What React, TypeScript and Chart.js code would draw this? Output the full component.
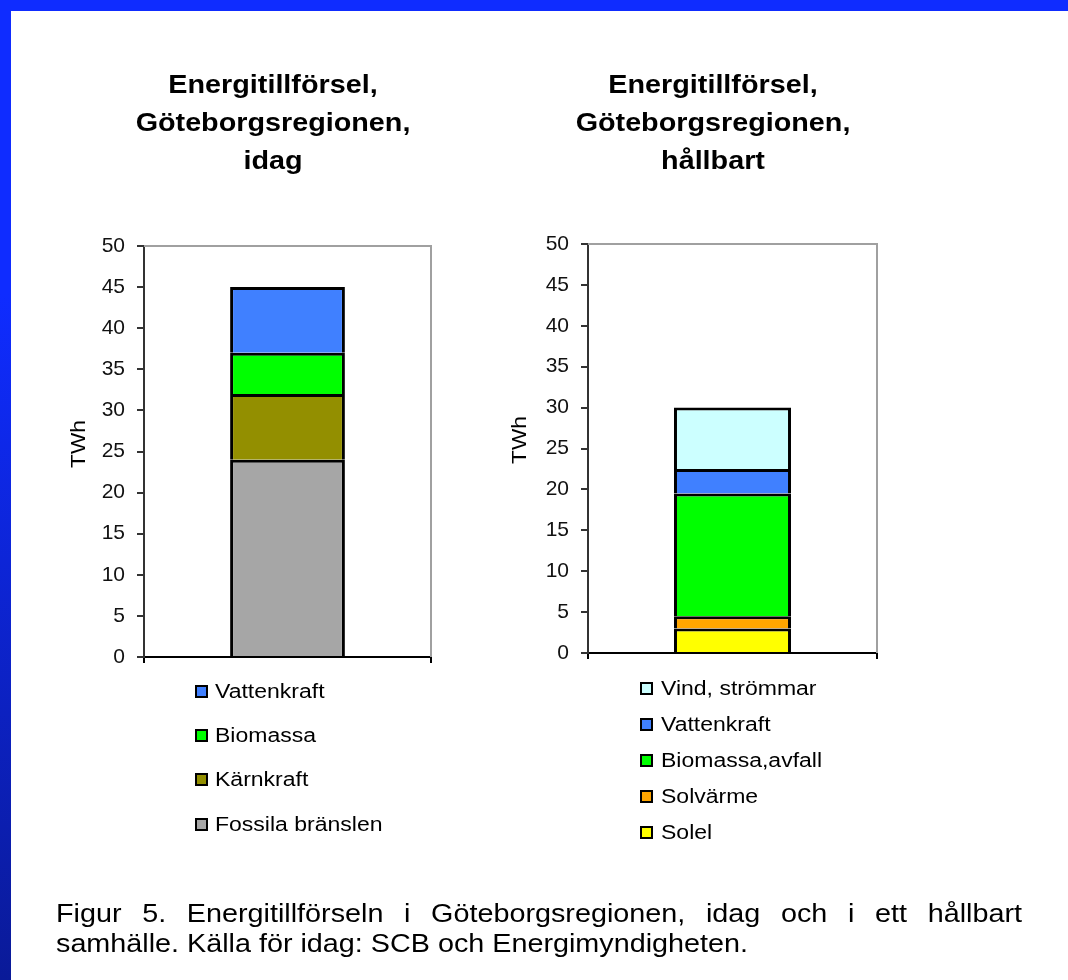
import React, { useEffect, useRef } from 'react';
import { Chart, registerables } from 'chart.js';

Chart.register(...registerables);

// ---------- data ----------
const categories = [''];
const leftSeriesLabels = ['Fossila bränslen', 'Kärnkraft', 'Biomassa', 'Vattenkraft'];
const leftSeriesValues = [24, 8, 5, 8];
const leftSeriesColors = ['#a6a6a6', '#938f00', '#00ff00', '#4080ff'];

const rightSeriesLabels = ['Solel', 'Solvärme', 'Biomassa,avfall', 'Vattenkraft', 'Vind, strömmar'];
const rightSeriesValues = [3, 1.5, 15, 3, 7.5];
const rightSeriesColors = ['#ffff00', '#ffa500', '#00ff00', '#4080ff', '#ccffff'];

const yMin = 0;
const yMax = 50;
const yStep = 5;
const yAxisLabel = 'TWh';

const leftTitleLines = ['Energitillförsel,', 'Göteborgsregionen,', 'idag'];
const rightTitleLines = ['Energitillförsel,', 'Göteborgsregionen,', 'hållbart'];

const captionLine1 = 'Figur 5. Energitillförseln i Göteborgsregionen, idag och i ett hållbart';
const captionLine2 = 'samhälle. Källa för idag: SCB och Energimyndigheten.';

// ---------- layout ----------
const W = 1068;
const H = 980;
const FONT = '"Liberation Sans", Arial, Helvetica, sans-serif';
const Y_W = 100;
const X_H = 10;
const STRETCH = 1.15;

type Spec = {
  labels: string[];
  values: number[];
  colors: string[];
  title: string[];
  area: { left: number; top: number; right: number; bottom: number };
  titleCx: number;
  titleBaselines: number[];
  legend: { boxX: number; textX: number; rows: number[] };
  ylab: { x: number; y: number };
  barPct: number;
};

const leftSpec: Spec = {
  labels: leftSeriesLabels,
  values: leftSeriesValues,
  colors: leftSeriesColors,
  title: leftTitleLines,
  area: { left: 144, top: 246, right: 431, bottom: 657 },
  titleCx: 273,
  titleBaselines: [93, 131, 169],
  legend: { boxX: 195, textX: 215, rows: [691, 735, 779, 824] },
  ylab: { x: 79, y: 444 },
  barPct: 0.4,
};

const rightSpec: Spec = {
  labels: rightSeriesLabels,
  values: rightSeriesValues,
  colors: rightSeriesColors,
  title: rightTitleLines,
  area: { left: 588, top: 244, right: 877, bottom: 653 },
  titleCx: 713,
  titleBaselines: [93, 131, 169],
  legend: { boxX: 640, textX: 661, rows: [688, 724, 760, 796, 832] },
  ylab: { x: 520, y: 440 },
  barPct: 0.405,
};

function drawText(
  ctx: CanvasRenderingContext2D,
  text: string,
  x: number,
  y: number,
  align: CanvasTextAlign,
  baseline: CanvasTextBaseline,
  sx: number
) {
  ctx.save();
  ctx.translate(x, y);
  ctx.scale(sx, 1);
  ctx.textAlign = align;
  ctx.textBaseline = baseline;
  ctx.fillText(text, 0, 0);
  ctx.restore();
}

function makeConfig(spec: Spec): any {
  const decor = {
    id: 'decor',
    afterDraw(chart: any) {
      const ctx = chart.ctx as CanvasRenderingContext2D;
      const ca = chart.chartArea;
      ctx.save();
      // top and right frame of plot area
      ctx.strokeStyle = '#a0a0a0';
      ctx.lineWidth = 2;
      ctx.beginPath();
      ctx.moveTo(ca.left, ca.top);
      ctx.lineTo(ca.right, ca.top);
      ctx.lineTo(ca.right, ca.bottom);
      ctx.stroke();

      // titles
      ctx.fillStyle = '#000';
      ctx.font = `bold 25px ${FONT}`;
      spec.title.forEach((t, i) =>
        drawText(ctx, t, spec.titleCx, spec.titleBaselines[i], 'center', 'alphabetic', STRETCH)
      );

      // y axis label
      ctx.font = `21px ${FONT}`;
      ctx.save();
      ctx.translate(spec.ylab.x, spec.ylab.y);
      ctx.rotate(-Math.PI / 2);
      ctx.scale(1.08, 1);
      ctx.textAlign = 'center';
      ctx.textBaseline = 'middle';
      ctx.fillText(yAxisLabel, 0, 0);
      ctx.restore();

      // legend (reverse order: top item is last stacked series)
      ctx.font = `20px ${FONT}`;
      const ds = chart.data.datasets;
      const n = ds.length;
      spec.legend.rows.forEach((y, i) => {
        const d = ds[n - 1 - i];
        ctx.fillStyle = '#000';
        ctx.fillRect(spec.legend.boxX, y - 6, 13, 13);
        ctx.fillStyle = d.backgroundColor;
        ctx.fillRect(spec.legend.boxX + 2, y - 4, 9, 9);
        ctx.fillStyle = '#000';
        drawText(ctx, d.label, spec.legend.textX, y + 1, 'left', 'middle', STRETCH);
      });
      ctx.restore();
    },
  };

  return {
    type: 'bar',
    data: {
      labels: categories,
      datasets: spec.labels.map((lab, i) => ({
        label: lab,
        data: [spec.values[i]],
        backgroundColor: spec.colors[i],
        borderColor: '#000',
        borderWidth: 3,
        borderSkipped: 'start',
        barPercentage: spec.barPct,
        categoryPercentage: 1,
      })),
    },
    options: {
      responsive: false,
      animation: false,
      devicePixelRatio: 1,
      events: [],
      layout: {
        padding: {
          left: spec.area.left - Y_W,
          top: spec.area.top,
          right: W - spec.area.right,
          bottom: H - spec.area.bottom - X_H,
        },
      },
      plugins: {
        legend: { display: false },
        title: { display: false },
        tooltip: { enabled: false },
      },
      scales: {
        x: {
          stacked: true,
          afterFit: (s: any) => {
            s.height = X_H;
          },
          grid: {
            offset: true,
            drawOnChartArea: false,
            drawTicks: true,
            tickLength: 6,
            color: '#000',
            lineWidth: 2,
          },
          border: { display: true, color: '#000', width: 2 },
          ticks: { display: false },
        },
        y: {
          stacked: true,
          min: yMin,
          max: yMax,
          afterFit: (s: any) => {
            s.width = Y_W;
          },
          grid: {
            drawOnChartArea: false,
            drawTicks: true,
            tickLength: 7,
            color: '#333',
            lineWidth: 2,
          },
          border: { display: true, color: '#333', width: 2 },
          ticks: {
            stepSize: yStep,
            padding: 12,
            color: '#111',
            font: { family: FONT, size: 21 },
          },
        },
      },
    },
    plugins: [decor],
  };
}

function ChartCanvas({ spec }: { spec: Spec }) {
  const ref = useRef<HTMLCanvasElement | null>(null);
  useEffect(() => {
    if (!ref.current) return;
    const chart = new Chart(ref.current, makeConfig(spec));
    return () => chart.destroy();
  }, [spec]);
  return (
    <canvas
      ref={ref}
      width={W}
      height={H}
      style={{ position: 'absolute', left: 0, top: 0, width: W, height: H }}
    />
  );
}

export default function App() {
  const capScale = 1.15;
  const capLeft = 56;
  const capRight = 1022;
  const captionStyle: React.CSSProperties = {
    position: 'absolute',
    left: capLeft,
    fontFamily: FONT,
    fontSize: 25,
    lineHeight: '30px',
    color: '#000',
    whiteSpace: 'nowrap',
    transform: `scaleX(${capScale})`,
    transformOrigin: '0 0',
  };
  return (
    <div
      style={{
        position: 'absolute',
        left: 0,
        top: 0,
        width: W,
        height: H,
        background: '#fff',
        overflow: 'hidden',
      }}
    >
      <div style={{ position: 'absolute', left: 0, top: 0, width: W, height: 11, background: '#0f2cff' }} />
      <div
        style={{
          position: 'absolute',
          left: 0,
          top: 0,
          width: 11,
          height: H,
          background: 'linear-gradient(#0f2cff 0%, #0f2cff 30%, #0a1a98 100%)',
        }}
      />
      <ChartCanvas spec={leftSpec} />
      <ChartCanvas spec={rightSpec} />
      <div
        style={{
          ...captionStyle,
          top: 898,
          width: (capRight - capLeft) / capScale,
          textAlign: 'justify',
          textAlignLast: 'justify',
          whiteSpace: 'normal',
        }}
      >
        {captionLine1}
      </div>
      <div style={{ ...captionStyle, top: 928 }}>{captionLine2}</div>
    </div>
  );
}
